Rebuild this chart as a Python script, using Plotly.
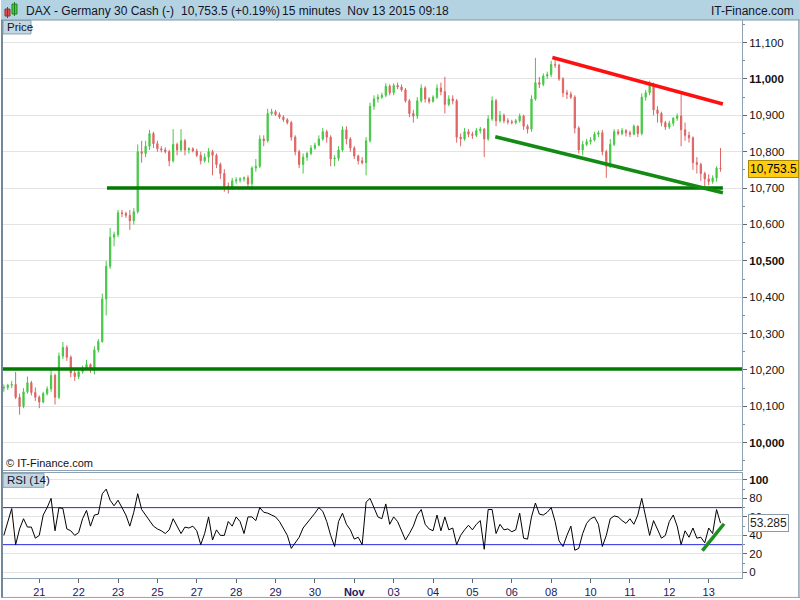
import plotly.graph_objects as go

# ---------------- data ----------------
day_labels = ["21", "22", "23", "25", "27", "28", "29", "30", "<b>Nov</b>",
              "03", "04", "05", "06", "08", "10", "11", "12", "13"]
day_ticks = list(range(1, 19))  # session index of each label

opens = [10150,10152,10158,10160,10125,10100,10140,10165,10138,10125,
         10112,10135,10148,10185,10125,10238,10262,10235,10192,10182,
         10195,10205,10215,10200,10255,10278,10395,10485,10565,10572,
         10632,10630,10625,10610,10635,10800,10795,10815,10850,10822,
         10808,10805,10800,10775,10820,10805,10830,10805,10808,10802,
         10790,10775,10785,10800,10790,10765,10740,10705,10700,10720,
         10722,10725,10728,10712,10755,10760,10835,10830,10905,10910,
         10902,10895,10888,10880,10840,10800,10765,10785,10795,10810,
         10818,10835,10855,10840,10780,10782,10805,10860,10835,10810,
         10788,10775,10770,10830,10925,10945,10950,10955,10980,10962,
         10982,10978,10970,10940,10905,10898,10940,10975,10945,10938,
         10950,10975,10965,10930,10945,10940,10840,10835,10855,10848,
         10845,10858,10862,10835,10890,10940,10885,10900,10885,10882,
         10880,10885,10898,10870,10862,10945,10990,10985,11008,11012,
         11040,11038,11000,10962,10958,10950,10865,10805,10820,10828,
         10832,10848,10852,10800,10760,10820,10855,10850,10858,10852,
         10848,10870,10850,10950,10962,10985,10915,10905,10880,10868,
         10878,10892,10898,10860,10845,10838,10770,10765,10740,10725,
         10718,10728,10755]
highs = [10160,10162,10170,10195,10135,10150,10182,10170,10152,10130,
         10140,10155,10200,10190,10248,10277,10268,10240,10200,10200,
         10212,10228,10218,10265,10285,10410,10500,10590,10580,10640,
         10640,10635,10640,10645,10820,10830,10830,10860,10855,10830,
         10815,10812,10805,10862,10825,10862,10835,10812,10812,10808,
         10800,10795,10810,10805,10795,10770,10752,10715,10728,10730,
         10730,10732,10735,10760,10780,10845,10845,10918,10918,10915,
         10908,10900,10892,10885,10845,10805,10795,10800,10818,10825,
         10845,10865,10860,10845,10790,10815,10870,10870,10840,10815,
         10792,10785,10840,10935,10955,10958,10962,10988,10985,10988,
         10990,10985,10975,10945,10915,10950,10985,10980,10950,10955,
         10985,10990,11006,10955,10955,10945,10850,10865,10862,10855,
         10865,10868,10865,10900,10952,10945,10912,10905,10892,10888,
         10890,10905,10902,10875,10955,11058,11005,11015,11020,11050,
         11058,11042,11005,10970,10965,10955,10870,10830,10835,10840,
         10855,10858,10860,10805,10835,10862,10862,10865,10862,10858,
         10875,10872,10960,10970,10995,10990,10925,10910,10885,10885,
         10895,10905,10960,10880,10855,10842,10785,10770,10745,10738,
         10735,10760,10810]
lows = [10140,10145,10150,10120,10077,10095,10135,10130,10115,10095,
        10108,10130,10140,10105,10120,10230,10225,10180,10170,10175,
        10190,10200,10192,10188,10248,10275,10350,10478,10540,10565,
        10620,10618,10585,10600,10630,10770,10785,10805,10810,10800,
        10798,10795,10760,10770,10790,10800,10790,10795,10798,10785,
        10765,10770,10770,10735,10755,10725,10690,10685,10695,10712,
        10715,10718,10700,10695,10745,10755,10815,10825,10900,10898,
        10890,10882,10875,10830,10790,10755,10740,10775,10790,10805,
        10815,10830,10825,10760,10760,10775,10800,10820,10800,10780,
        10765,10765,10735,10825,10915,10935,10945,10950,10955,10955,
        10972,10965,10935,10895,10880,10890,10935,10935,10932,10935,
        10945,10955,10905,10925,10930,10825,10815,10830,10840,10835,
        10840,10850,10785,10830,10885,10870,10880,10878,10875,10875,
        10875,10880,10860,10850,10855,10940,10975,10980,11000,11005,
        11030,10995,10950,10945,10945,10850,10795,10790,10815,10820,
        10828,10840,10790,10728,10755,10815,10845,10845,10842,10840,
        10845,10840,10845,10940,10955,10900,10880,10870,10860,10862,
        10870,10885,10815,10830,10825,10750,10740,10720,10705,10708,
        10712,10718,10745]
closes = [10152,10158,10160,10125,10100,10140,10165,10138,10125,10112,
          10135,10148,10185,10125,10238,10262,10235,10192,10182,10195,
          10205,10215,10200,10255,10278,10395,10485,10565,10572,10632,
          10630,10625,10610,10635,10800,10795,10815,10850,10822,10808,
          10805,10800,10775,10820,10805,10830,10805,10808,10802,10790,
          10775,10785,10800,10790,10765,10740,10705,10700,10720,10722,
          10725,10728,10712,10755,10760,10835,10830,10905,10910,10902,
          10895,10888,10880,10840,10800,10765,10785,10795,10810,10818,
          10835,10855,10840,10780,10782,10805,10860,10835,10810,10788,
          10775,10770,10830,10925,10945,10950,10955,10980,10962,10982,
          10978,10970,10940,10905,10898,10940,10975,10945,10938,10950,
          10975,10965,10930,10945,10940,10840,10835,10855,10848,10845,
          10858,10862,10835,10890,10940,10885,10900,10885,10882,10880,
          10885,10898,10870,10862,10945,10990,10985,11008,11012,11040,
          11038,11000,10962,10958,10950,10865,10805,10820,10828,10832,
          10848,10852,10800,10760,10820,10855,10850,10858,10852,10848,
          10870,10850,10950,10962,10985,10915,10905,10880,10868,10878,
          10892,10898,10860,10845,10838,10770,10765,10740,10725,10718,
          10728,10755,10753.5]
rsi = [40,55,69,30,47,58,49,49,37,40,
       62,70,80,45,70,69,47,45,40,43,
       58,67,50,62,63,85,90,78,72,78,
       70,62,50,65,85,68,62,56,50,47,
       45,42,46,58,50,42,49,48,50,45,
       30,42,60,35,46,40,40,55,50,60,
       55,42,60,60,56,70,65,64,62,60,
       55,48,40,26,32,38,48,53,58,64,
       70,66,55,40,28,55,64,52,46,36,
       38,30,76,80,70,60,58,74,52,60,
       55,45,35,42,50,62,68,52,47,45,
       62,45,60,46,48,30,40,46,51,46,
       52,56,25,68,68,42,52,46,47,44,
       46,64,37,36,60,75,63,62,65,70,
       55,34,28,40,50,24,26,42,53,58,
       60,52,28,40,58,61,60,56,53,58,
       52,62,80,60,40,56,46,37,40,55,
       62,50,30,45,38,48,37,38,32,48,
       42,68,53.285]
# time axis in trading-session units (10 bars per session label step)
bar_time = [round(0.1 * k, 1) for k in range(1, len(closes) + 1)]

# drawn trend lines: (time, price) endpoints
support_high = {"t": [2.72, 18.36], "p": [10700, 10700]}
support_low = {"t": [0.079, 18.846], "p": [10203, 10203]}
resistance = {"t": [14.03, 18.36], "p": [11059, 10931]}
channel_low = {"t": [12.58, 18.36], "p": [10841, 10687]}
rsi_trend = {"t": [17.84, 18.39], "p": [23.5, 52.6]}
rsi_bands = [70, 30]

price_ticks = list(range(10000, 11101, 100))
rsi_ticks = [0, 20, 40, 60, 80, 100]

# ---------------- figure ----------------
W, H = 800, 600
ML, MR, MT, MB = 2, 58, 20, 20
PW, PH = W - ML - MR, H - MT - MB


def px(x):
    return (x - ML) / PW


def py(y):
    return (H - MB - y) / PH


FONT = "Liberation Sans, Arial, sans-serif"
GREEN = "#46c846"
RED = "#df6464"

fig = go.Figure()
fig.add_trace(go.Candlestick(
    x=bar_time, open=opens, high=highs, low=lows, close=closes,
    xaxis="x", yaxis="y", whiskerwidth=0,
    increasing=dict(line=dict(color=GREEN, width=1), fillcolor=GREEN),
    decreasing=dict(line=dict(color=RED, width=1), fillcolor=RED),
    showlegend=False, hoverinfo="skip"))

for ln, col, w in [(support_high, "#007a00", 3.5), (support_low, "#007a00", 3.5),
                   (resistance, "#ff1010", 3.5), (channel_low, "#138a13", 3.5)]:
    fig.add_trace(go.Scatter(x=ln["t"], y=ln["p"], mode="lines", xaxis="x", yaxis="y",
                             line=dict(color=col, width=w), showlegend=False, hoverinfo="skip"))

# RSI overbought / oversold bands
for lvl in rsi_bands:
    fig.add_trace(go.Scatter(x=[bar_time[0] - 1, bar_time[-1] + 1], y=[lvl, lvl], mode="lines",
                             xaxis="x2", yaxis="y2", line=dict(color="#2828e0", width=1),
                             showlegend=False, hoverinfo="skip"))
fig.add_trace(go.Scatter(x=bar_time, y=rsi, mode="lines", xaxis="x2", yaxis="y2",
                         line=dict(color="#000000", width=1), showlegend=False, hoverinfo="skip"))
fig.add_trace(go.Scatter(x=rsi_trend["t"], y=rsi_trend["p"], mode="lines", xaxis="x2", yaxis="y2",
                         line=dict(color="#1f8f1f", width=3.5), showlegend=False, hoverinfo="skip"))

main_dom = [py(472), 1]
rsi_dom = [0, py(475)]
xr = [0.079, 18.846]

ptext = []
for v in price_ticks:
    s = f"{v:,}"
    ptext.append(f"<b>{s}</b>" if v % 500 == 0 else s)

fig.update_layout(
    width=W, height=H,
    margin=dict(l=ML, r=MR, t=MT, b=MB, pad=0),
    paper_bgcolor="white", plot_bgcolor="white",
    font=dict(family=FONT, size=11, color="#111111"),
    showlegend=False,
    boxgap=0.55,
    xaxis=dict(domain=[0, 1], anchor="y", range=xr, showticklabels=False, ticks="",
               showgrid=False, zeroline=False, rangeslider=dict(visible=False),
               showline=True, mirror=True, linecolor="#8fa2b2", linewidth=1),
    yaxis=dict(domain=main_dom, anchor="x", side="right", range=[9924, 11162],
               tickvals=price_ticks, ticktext=ptext, tickfont=dict(size=11.5, color="#111"),
               ticks="outside", ticklen=4, tickcolor="#666",
               showgrid=True, gridcolor="#e3e3e3", gridwidth=1, zeroline=False,
               showline=True, mirror=True, linecolor="#8fa2b2", linewidth=1,
               minor=dict(dtick=50, ticks="outside", ticklen=2, tickcolor="#888", showgrid=False)),
    xaxis2=dict(domain=[0, 1], anchor="y2", range=xr, matches="x",
                tickvals=day_ticks, ticktext=day_labels,
                tickfont=dict(size=11, color="#20205a"),
                ticks="outside", ticklen=4, tickcolor="#666",
                showgrid=False, zeroline=False,
                showline=True, mirror=True, linecolor="#8fa2b2", linewidth=1),
    yaxis2=dict(domain=rsi_dom, anchor="x2", side="right", range=[-6, 107],
                tickvals=rsi_ticks, ticktext=["0", "20", "40", "60", "80", "<b>100</b>"],
                tickfont=dict(size=11.5, color="#111"),
                ticks="outside", ticklen=4, tickcolor="#666",
                showgrid=True, gridcolor="#e3e3e3", zeroline=False,
                showline=True, mirror=True, linecolor="#8fa2b2", linewidth=1,
                minor=dict(dtick=10, ticks="outside", ticklen=2, tickcolor="#888", showgrid=False)),
)

shapes = []
# title bar
shapes.append(dict(type="rect", xref="paper", yref="paper", x0=px(0), x1=px(W), y0=py(20), y1=py(0),
                   fillcolor="#b3d3e3", line=dict(width=0), layer="above"))
shapes.append(dict(type="line", xref="paper", yref="paper", x0=px(0), x1=px(W), y0=py(20), y1=py(20),
                   line=dict(color="#7f98a8", width=1)))
# left & right frame
shapes.append(dict(type="rect", xref="paper", yref="paper", x0=px(0), x1=px(2), y0=py(600), y1=py(20),
                   fillcolor="#71889a", line=dict(width=0)))
shapes.append(dict(type="line", xref="paper", yref="paper", x0=px(799), x1=px(799), y0=py(600), y1=py(20),
                   line=dict(color="#8fa2b2", width=1.5)))
shapes.append(dict(type="line", xref="paper", yref="paper", x0=px(0), x1=px(800), y0=py(599.5), y1=py(599.5),
                   line=dict(color="#8fa2b2", width=1)))
# legend icon in title bar
shapes.append(dict(type="rect", xref="paper", yref="paper", x0=px(4), x1=px(9), y0=py(16), y1=py(9),
                   fillcolor="#e05050", line=dict(color="#903030", width=1)))
shapes.append(dict(type="line", xref="paper", yref="paper", x0=px(6.5), x1=px(6.5), y0=py(18), y1=py(7),
                   line=dict(color="#903030", width=1)))
shapes.append(dict(type="rect", xref="paper", yref="paper", x0=px(11), x1=px(16), y0=py(14), y1=py(4),
                   fillcolor="#40d040", line=dict(color="#208020", width=1)))
shapes.append(dict(type="line", xref="paper", yref="paper", x0=px(13.5), x1=px(13.5), y0=py(16), y1=py(2),
                   line=dict(color="#208020", width=1)))
# panel label boxes
shapes.append(dict(type="rect", xref="paper", yref="paper", x0=px(2), x1=px(30), y0=py(34), y1=py(20.5),
                   fillcolor="#c3d7e3", line=dict(color="#8aa0b0", width=1)))
shapes.append(dict(type="rect", xref="paper", yref="paper", x0=px(2), x1=px(43), y0=py(489), y1=py(475),
                   fillcolor="#c3d7e3", line=dict(color="#8aa0b0", width=1)))
fig.update_layout(shapes=shapes)

ann = []
tb = dict(xref="paper", yref="paper", showarrow=False, yanchor="middle",
          font=dict(family=FONT, size=12, color="#141428"))
ann.append(dict(tb, x=px(23), y=py(11), xanchor="left", text="DAX - Germany 30 Cash (-)"))
ann.append(dict(tb, x=px(178), y=py(11), xanchor="left", text="10,753.5 (+0.19%)"))
ann.append(dict(tb, x=px(279), y=py(11), xanchor="left", text="15 minutes  Nov 13 2015 09:18"))
ann.append(dict(tb, x=px(796), y=py(11), xanchor="right", text="IT-Finance.com"))
ann.append(dict(tb, x=px(4), y=py(27.5), xanchor="left", text="Price", font=dict(family=FONT, size=11.5, color="#141428")))
ann.append(dict(tb, x=px(4), y=py(482), xanchor="left", text="RSI (14)", font=dict(family=FONT, size=11.5, color="#141428")))
ann.append(dict(tb, x=px(3), y=py(465), xanchor="left", text="© IT-Finance.com", font=dict(family=FONT, size=11, color="#111")))
# last-value tags
ann.append(dict(xref="paper", yref="y", x=px(748), y=closes[-1], xanchor="left", yanchor="middle",
                showarrow=False, text=f"{closes[-1]:,.1f}", bgcolor="#ffcc10", bordercolor="#a88a00",
                borderwidth=1, borderpad=1, font=dict(family=FONT, size=12, color="#000")))
ann.append(dict(xref="paper", yref="y2", x=px(748), y=rsi[-1], xanchor="left", yanchor="middle",
                showarrow=False, text=f"{rsi[-1]:.3f}", bgcolor="#ffffff", bordercolor="#8a9aa8",
                borderwidth=1, borderpad=1, font=dict(family=FONT, size=12, color="#222")))
fig.update_layout(annotations=ann)

fig.write_html("out.html", config={"displayModeBar": False},
               post_script="document.body.style.margin='0';document.body.style.overflow='hidden';")
